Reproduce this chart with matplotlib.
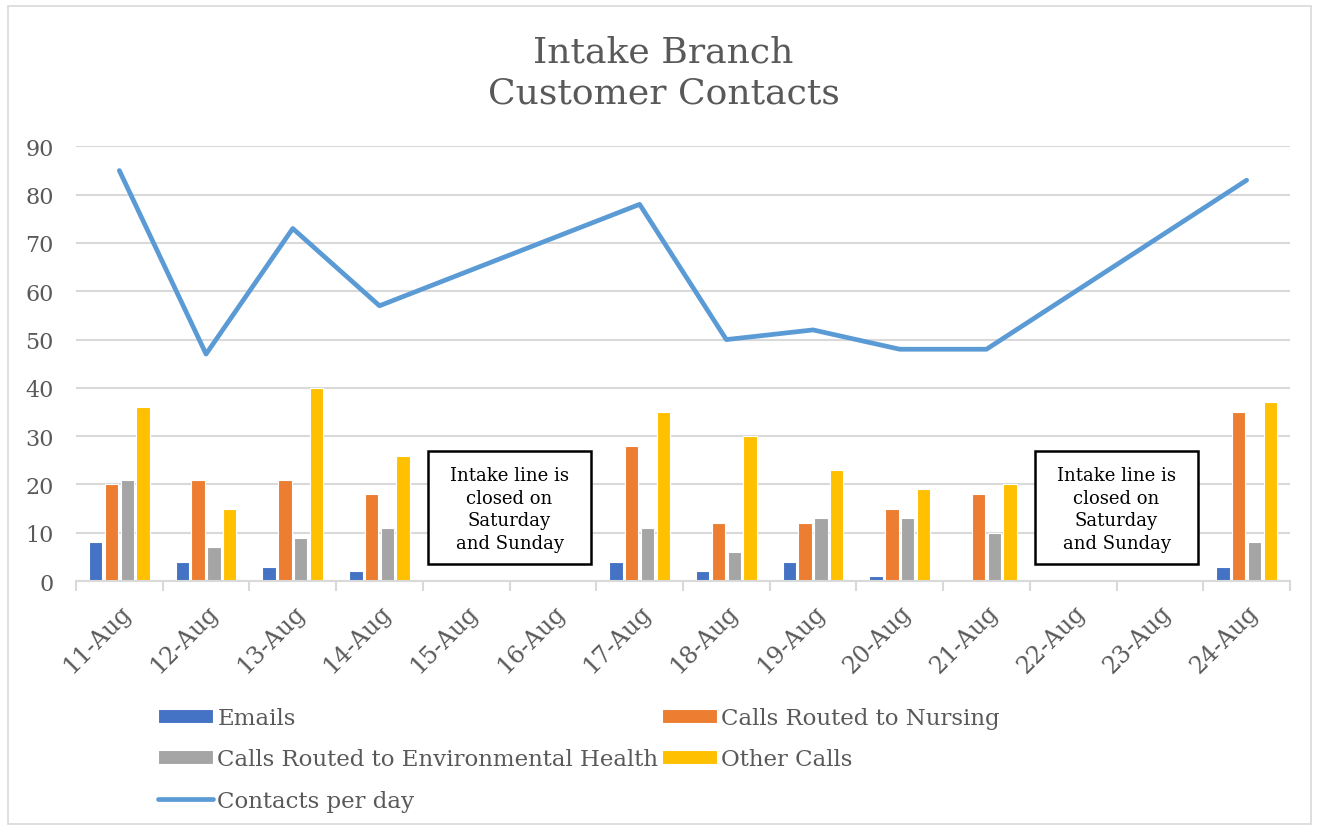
import matplotlib.pyplot as plt
import numpy as np
from matplotlib.patches import Rectangle

days = ["11-Aug", "12-Aug", "13-Aug", "14-Aug", "15-Aug", "16-Aug", "17-Aug",
        "18-Aug", "19-Aug", "20-Aug", "21-Aug", "22-Aug", "23-Aug", "24-Aug"]
emails = [8, 4, 3, 2, 0, 0, 4, 2, 4, 1, 0, 0, 0, 3]
nursing = [20, 21, 21, 18, 0, 0, 28, 12, 12, 15, 18, 0, 0, 35]
env_health = [21, 7, 9, 11, 0, 0, 11, 6, 13, 13, 10, 0, 0, 8]
other = [36, 15, 40, 26, 0, 0, 35, 30, 23, 19, 20, 0, 0, 37]
contacts = [85, 47, 73, 57, np.nan, np.nan, 78, 50, 52, 48, 48, np.nan, np.nan, 83]
closed_days = [("15-Aug", "16-Aug"), ("22-Aug", "23-Aug")]
note = "Intake line is\nclosed on\nSaturday\nand Sunday"

plt.rcParams['font.family'] = ['DejaVu Serif']
grey = "#595959"

fig = plt.figure(figsize=(13.19, 8.28), dpi=100)
ax = fig.add_axes([0.0576, 0.297, 0.9204, 0.525])

x = np.arange(len(days))
step = 0.182
w = 0.155
series = [(emails, "#4472C4", "Emails"),
          (nursing, "#ED7D31", "Calls Routed to Nursing"),
          (env_health, "#A5A5A5", "Calls Routed to Environmental Health"),
          (other, "#FFC000", "Other Calls")]
bars = []
for i, (vals, col, lab) in enumerate(series):
    b = ax.bar(x + (i - 1.5) * step, vals, w, color=col, edgecolor="white",
               linewidth=0.8, label=lab, zorder=3)
    bars.append(b)

c = np.array(contacts, dtype=float)
ok = ~np.isnan(c)
line, = ax.plot(x[ok], c[ok], color="#5B9BD5", lw=3.4, solid_capstyle="round",
                label="Contacts per day", zorder=4)

ax.set_xlim(-0.5, len(days) - 0.5)
ax.set_ylim(0, 90)
ax.set_yticks(range(0, 91, 10))
ax.set_xticks(x)
ax.set_xticklabels(days, rotation=45, ha="right", rotation_mode="anchor")
ax.set_xticks(np.arange(-0.5, len(days), 1), minor=True)
ax.tick_params(axis="x", which="major", length=0, pad=14, labelsize=17, colors=grey)
ax.tick_params(axis="x", which="minor", length=7, width=1.5, color="#D9D9D9")
ax.tick_params(axis="y", length=0, pad=16, labelsize=16, labelcolor=grey)
ax.grid(axis="y", color="#D9D9D9", lw=1.5, zorder=0)
ax.set_axisbelow(True)
for s in ["top", "right", "left"]:
    ax.spines[s].set_visible(False)
ax.spines["bottom"].set_color("#D9D9D9")
ax.spines["bottom"].set_linewidth(1.5)
ax.spines["bottom"].set_zorder(5)

# notes for the weekend gaps
for a, b in closed_days:
    xm = (days.index(a) + days.index(b)) / 2
    ax.add_patch(Rectangle((xm - 0.945, 3.5), 1.89, 23.4, fc="white", ec="black",
                           lw=1.8, zorder=6))
    ax.text(xm, 14.9, note, ha="center", va="center", fontsize=13,
            color="black", linespacing=1.33, zorder=7)

fig.text(0.503, 0.912, "Intake Branch\nCustomer Contacts", ha="center", va="center",
         fontsize=26, color=grey, linespacing=1.25)

handles = [bars[0], bars[2], line, bars[1], bars[3]]
leg = fig.legend(handles=handles, labels=[h.get_label() for h in handles], ncol=2,
                 loc="upper left", bbox_to_anchor=(0.104, 0.17), frameon=False,
                 fontsize=16.5, labelcolor=grey, handlelength=2.4, handleheight=0.55,
                 handletextpad=0.2, columnspacing=0.15, labelspacing=0.85)

fig.patches.append(Rectangle((0.006, 0.004), 0.988, 0.988, transform=fig.transFigure,
                             fill=False, ec="#D9D9D9", lw=1.2))

fig.savefig("out.png", dpi=100)
